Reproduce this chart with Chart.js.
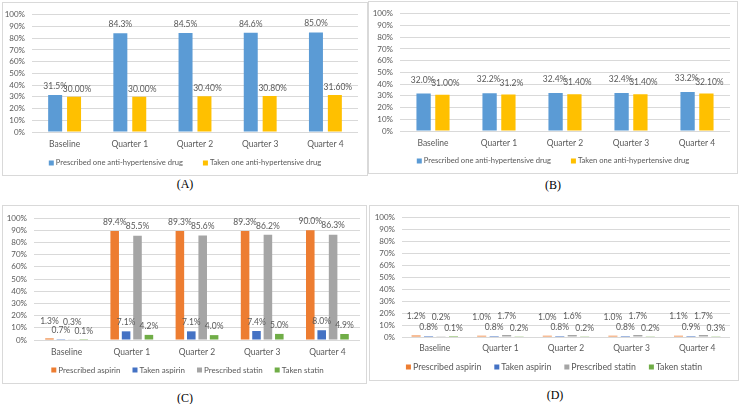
<!DOCTYPE html>
<html>
<head>
<meta charset="utf-8">
<script src="https://cdn.jsdelivr.net/npm/chart.js@4.4.1/dist/chart.umd.min.js"></script>
<style>
  html, body { margin: 0; padding: 0; background: #fff; }
  body { width: 741px; height: 404px; position: relative; overflow: hidden; }
  .panel { position: absolute; box-sizing: border-box; border: 1px solid #d9d9d9; background: #fff; }
  .panel canvas { display: block; }
  .caption { position: absolute; width: 60px; margin-left: -30px; text-align: center;
             font-family: "Liberation Serif", serif; font-size: 12px; line-height: 14px; color: #000; }
</style>
</head>
<body>
<div class="panel" style="left:2px;top:2px;width:366px;height:174px"><canvas id="chartA"></canvas></div>
<div class="panel" style="left:368px;top:1px;width:370px;height:173px"><canvas id="chartB"></canvas></div>
<div class="panel" style="left:2px;top:205px;width:365px;height:179px"><canvas id="chartC"></canvas></div>
<div class="panel" style="left:369px;top:205px;width:370px;height:176px"><canvas id="chartD"></canvas></div>
<div class="caption" style="left:185px;top:177px">(A)</div>
<div class="caption" style="left:553px;top:178px">(B)</div>
<div class="caption" style="left:185px;top:391px">(C)</div>
<div class="caption" style="left:555px;top:388px">(D)</div>

<script>
const periods = ['Baseline', 'Quarter 1', 'Quarter 2', 'Quarter 3', 'Quarter 4'];

// (A) and (B): anti-hypertensive drug
const prescribedHtnA = [31.5, 84.3, 84.5, 84.6, 85.0];
const takenHtnA = [30.0, 30.0, 30.4, 30.8, 31.6];
const prescribedHtnB = [32.0, 32.2, 32.4, 32.4, 33.2];
const takenHtnB = [31.0, 31.2, 31.4, 31.4, 32.1];

// decimals shown on the labels
const prescribedHtnDecA = [1, 1, 1, 1, 1];
const takenHtnDecA = [2, 2, 2, 2, 2];
const prescribedHtnDecB = [1, 1, 1, 1, 1];
const takenHtnDecB = [2, 1, 2, 2, 2];

// (C) and (D): aspirin / statin
const prescribedAspirinC = [1.3, 89.4, 89.3, 89.3, 90.0];
const takenAspirinC = [0.7, 7.1, 7.1, 7.4, 8.0];
const prescribedStatinC = [0.3, 85.5, 85.6, 86.2, 86.3];
const takenStatinC = [0.1, 4.2, 4.0, 5.0, 4.9];

const prescribedAspirinD = [1.2, 1.0, 1.0, 1.0, 1.1];
const takenAspirinD = [0.8, 0.8, 0.8, 0.8, 0.9];
const prescribedStatinD = [0.2, 1.7, 1.6, 1.7, 1.7];
const takenStatinD = [0.1, 0.2, 0.2, 0.2, 0.3];

const yTickValues = [0, 10, 20, 30, 40, 50, 60, 70, 80, 90, 100];

const TEXT = '#595959';
const FONT = 'Lato';

// value labels above the bars, Excel style
const barLabels = {
  id: 'barLabels',
  afterDatasetsDraw(chart, args, opts) {
    const ctx = chart.ctx;
    ctx.save();
    ctx.font = `${opts.size}px ${FONT}`;
    ctx.fillStyle = TEXT;
    ctx.textAlign = 'center';
    ctx.textBaseline = 'middle';
    chart.data.datasets.forEach((ds, i) => {
      const meta = chart.getDatasetMeta(i);
      meta.data.forEach((bar, j) => {
        const v = ds.data[j];
        let lift = opts.gap[i];
        // small bars: push every other label up so they don't collide
        if (opts.stagger && i % 2 === 0 && v < 3) lift += opts.stagger;
        const dec = ds.decimals ? ds.decimals[j] : 1;
        ctx.fillText(v.toFixed(dec) + '%', bar.x + opts.dx[i], bar.y - lift);
      });
    });
    ctx.restore();
  }
};

// legend row under the axis: small square + text, centred on the canvas
const boxLegend = {
  id: 'boxLegend',
  afterDraw(chart, args, opts) {
    const ctx = chart.ctx;
    ctx.save();
    ctx.font = `${opts.size}px ${FONT}`;
    ctx.textBaseline = 'middle';
    ctx.textAlign = 'left';
    const items = chart.data.datasets.map(ds => ({
      text: ds.label, color: ds.backgroundColor, w: ctx.measureText(ds.label).width
    }));
    const total = items.reduce((s, it) => s + opts.box + opts.textGap + it.w, 0)
      + opts.itemGap * (items.length - 1);
    let x = (chart.width - total) / 2 + opts.shift;
    const y = chart.chartArea.bottom + opts.offset;
    items.forEach(it => {
      ctx.fillStyle = it.color;
      ctx.fillRect(x, y - opts.box / 2, opts.box, opts.box);
      x += opts.box + opts.textGap;
      ctx.fillStyle = TEXT;
      ctx.fillText(it.text, x, y);
      x += it.w + opts.itemGap;
    });
    ctx.restore();
  }
};

function makeChart(id, datasets, cfg) {
  return new Chart(document.getElementById(id), {
    type: 'bar',
    data: { labels: periods, datasets },
    options: {
      responsive: true,
      maintainAspectRatio: false,
      animation: false,
      events: [],
      datasets: { bar: { categoryPercentage: cfg.catPct, barPercentage: cfg.barPct, borderWidth: 0 } },
      layout: { padding: { left: 0, right: cfg.padRight, top: cfg.padTop, bottom: cfg.padBottom } },
      scales: {
        x: {
          grid: { display: false, drawTicks: false },
          border: { display: false },
          ticks: { color: TEXT, font: { family: FONT, size: 8.5 }, padding: cfg.xPad, maxRotation: 0, autoSkip: false },
          afterFit: s => { s.height = 20; }
        },
        y: {
          min: 0,
          max: 100,
          afterBuildTicks: s => { s.ticks = yTickValues.map(v => ({ value: v })); },
          grid: { color: '#d9d9d9', lineWidth: 1, drawTicks: false },
          border: { display: false },
          ticks: { color: TEXT, font: { family: FONT, size: 8 }, padding: 7, autoSkip: false, callback: v => v + '%' },
          afterFit: s => { s.width = cfg.yWidth; }
        }
      },
      plugins: {
        legend: { display: false },
        tooltip: { enabled: false },
        barLabels: { size: 8.5, gap: cfg.gap, dx: cfg.dx, stagger: cfg.stagger },
        boxLegend: { size: cfg.legendSize, box: 5, textGap: 2, itemGap: cfg.itemGap, offset: cfg.legendOffset, shift: cfg.legendShift }
      }
    },
    plugins: [barLabels, boxLegend]
  });
}

const BLUE = '#5b9bd5', GOLD = '#ffc000';
const ORANGE = '#ed7d31', DKBLUE = '#4472c4', GRAY = '#a5a5a5', GREEN = '#70ad47';

makeChart('chartA', [
  { label: 'Prescribed one anti-hypertensive drug', data: prescribedHtnA, decimals: prescribedHtnDecA, backgroundColor: BLUE },
  { label: 'Taken one anti-hypertensive drug', data: takenHtnA, decimals: takenHtnDecA, backgroundColor: GOLD }
], { catPct: 0.58, barPct: 0.74, padRight: 9, padTop: 9, padBottom: 23, yWidth: 29, xPad: 7,
     legendSize: 7.6, itemGap: 20, legendOffset: 31, legendShift: 0,
     gap: [9, 8], dx: [0, 3], stagger: 0 });

makeChart('chartB', [
  { label: 'Prescribed one anti-hypertensive drug', data: prescribedHtnB, decimals: prescribedHtnDecB, backgroundColor: BLUE },
  { label: 'Taken one anti-hypertensive drug', data: takenHtnB, decimals: takenHtnDecB, backgroundColor: GOLD }
], { catPct: 0.57, barPct: 0.76, padRight: 7, padTop: 9, padBottom: 22, yWidth: 31, xPad: 7,
     legendSize: 7.6, itemGap: 20, legendOffset: 30, legendShift: 0,
     gap: [13.5, 11.5], dx: [-1, 3], stagger: 0 });

makeChart('chartC', [
  { label: 'Prescribed aspirin', data: prescribedAspirinC, backgroundColor: ORANGE },
  { label: 'Taken aspirin', data: takenAspirinC, backgroundColor: DKBLUE },
  { label: 'Prescribed statin', data: prescribedStatinC, backgroundColor: GRAY },
  { label: 'Taken statin', data: takenStatinC, backgroundColor: GREEN }
], { catPct: 0.7, barPct: 0.75, padRight: 6, padTop: 12, padBottom: 23, yWidth: 31, xPad: 7,
     legendSize: 8, itemGap: 12, legendOffset: 30, legendShift: 3,
     gap: [9, 9, 9, 9], dx: [0, 0, 0, 0], stagger: 8 });

makeChart('chartD', [
  { label: 'Prescribed aspirin', data: prescribedAspirinD, backgroundColor: ORANGE },
  { label: 'Taken aspirin', data: takenAspirinD, backgroundColor: DKBLUE },
  { label: 'Prescribed statin', data: prescribedStatinD, backgroundColor: GRAY },
  { label: 'Taken statin', data: takenStatinD, backgroundColor: GREEN }
], { catPct: 0.76, barPct: 0.73, padRight: 8, padTop: 10, padBottom: 23, yWidth: 32, xPad: 6,
     legendSize: 8.8, itemGap: 13, legendOffset: 30, legendShift: 0,
     gap: [8.5, 8.5, 8.5, 8.5], dx: [0, 0, 0, 0], stagger: 10.5 });
</script>
</body>
</html>
